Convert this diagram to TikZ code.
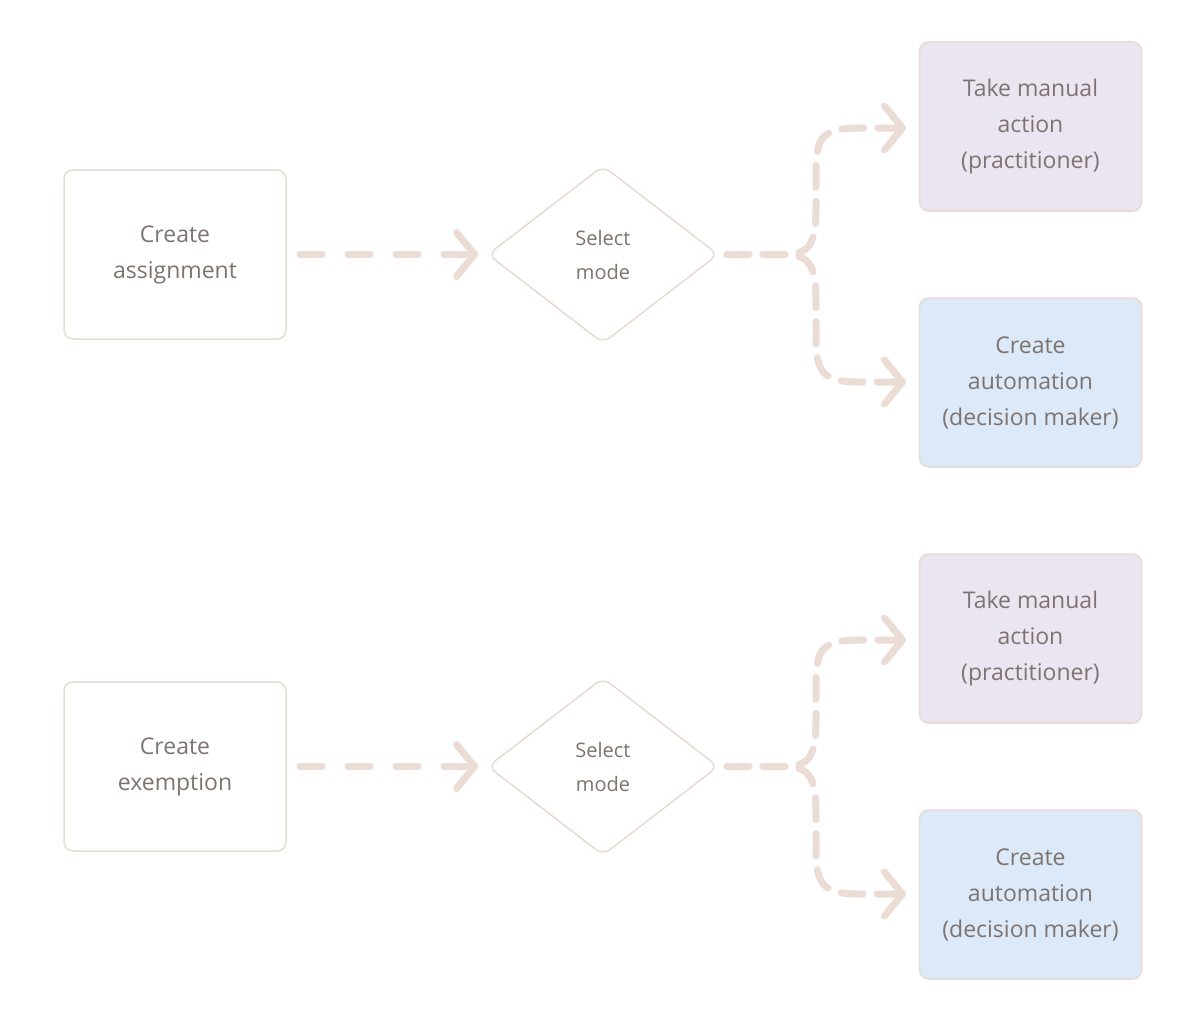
\documentclass[tikz,border=0pt]{standalone}
\usepackage{fontspec}
\setmainfont{Open Sans}
\usetikzlibrary{arrows.meta,shapes.geometric}
\definecolor{ln}{HTML}{EBDCD6}
\definecolor{bd}{HTML}{E8DAD4}
\definecolor{tx}{HTML}{7D7370}
\definecolor{pu}{HTML}{EBE5F2}
\definecolor{bl}{HTML}{DBE9F8}
\begin{document}
\begin{tikzpicture}[x=1pt,y=-1pt,
 box/.style={draw=bd,line width=1.5pt,rounded corners=9pt,minimum width=222pt,minimum height=169pt,align=center,text=tx,font=\fontsize{23}{36}\selectfont,fill=white},
 con/.style={draw=ln,line width=7pt,line cap=round,dash pattern=on 22pt off 26pt,-{Straight Barb[length=18pt,width=44pt,line width=7pt,round]}}]
\useasboundingbox (0,0) rectangle (1196,1025);
\fill[white] (0,0) rectangle (1196,1025);
\foreach \o/\t/\s in {0/Create\\assignment/a, 512/Create\\exemption/b}{
 \begin{scope}[yshift=-\o pt]
 \node[box] (l\s) at (175,254.5) {\t};
 \path[draw=bd,fill=white,line width=1.5pt,rounded corners=9pt] (488,254.5) -- (603,166) -- (718,254.5) -- (603,343) -- cycle;
 \node[text=tx,align=center,font=\fontsize{20}{34}\selectfont] (d\s) at (603,254.5) {Select\\mode};
 \node[box,fill=pu] (p\s) at (1030.5,126.5) {Take manual\\action\\(practitioner)};
 \node[box,fill=bl] (c\s) at (1030.5,382.5) {Create\\automation\\(decision maker)};
 \coordinate (a1\s) at (300,254.5);
 \coordinate (a2\s) at (478,254.5);
 \draw[con] (a1\s) -- (a2\s);
 \coordinate (s\s) at (727,254.5);
 \draw[con,dash pattern=on 22pt off 14pt] (s\s) -- (785,254.5) .. controls (812,254.5) and (816,240) .. (816,205) -- (816,170) .. controls (816,135) and (825,128) .. (860,128) -- (906,128);
 \draw[con,dash pattern=on 22pt off 14pt] (s\s) -- (785,254.5) .. controls (812,254.5) and (816,269) .. (816,304) -- (816,339) .. controls (816,374) and (825,382) .. (860,382) -- (906,382);
 \end{scope}}
\end{tikzpicture}
\end{document}
